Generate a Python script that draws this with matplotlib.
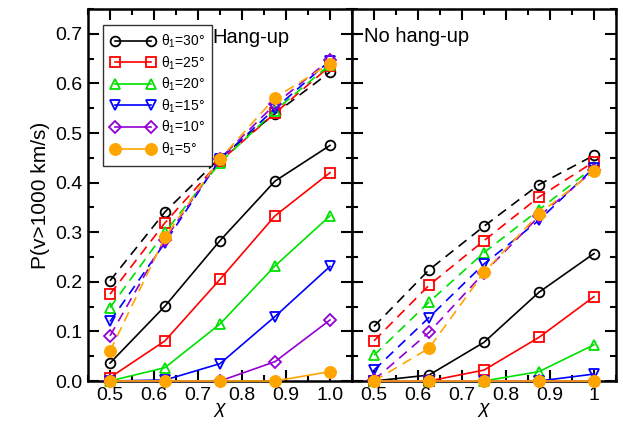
import numpy as np
import matplotlib
matplotlib.use("Agg")
import matplotlib.pyplot as plt
from matplotlib.ticker import MultipleLocator

plt.rcParams['font.family'] = ['Liberation Sans', 'DejaVu Sans']
plt.rcParams['mathtext.fontset'] = 'custom'
plt.rcParams['mathtext.rm'] = 'Liberation Sans'
plt.rcParams['mathtext.it'] = 'Liberation Sans:italic'

chi = [0.5, 0.625, 0.75, 0.875, 1.0]
angles = ['30', '25', '20', '15', '10', '5']
colors = ['black', '#ff0000', '#00e000', '#0000ff', '#9400d3', '#ffa500']
markers = ['o', 's', '^', 'v', 'D', 'o']

# Hang-up panel: upper (dashed) and lower (solid) sets
hang_dashed = [
    [0.202, 0.341, 0.450, 0.539, 0.623],
    [0.175, 0.319, 0.443, 0.540, 0.635],
    [0.148, 0.300, 0.440, 0.545, 0.638],
    [0.120, 0.279, 0.447, 0.549, 0.646],
    [0.091, 0.285, 0.448, 0.558, 0.648],
    [0.060, 0.290, 0.448, 0.571, 0.640],
]
hang_solid = [
    [0.036, 0.151, 0.283, 0.403, 0.475],
    [0.007, 0.081, 0.205, 0.333, 0.420],
    [0.000, 0.027, 0.115, 0.232, 0.333],
    [0.000, 0.002, 0.035, 0.130, 0.231],
    [0.000, 0.000, 0.000, 0.039, 0.123],
    [0.000, 0.000, 0.000, 0.000, 0.019],
]
# No hang-up panel
nohang_dashed = [
    [0.110, 0.224, 0.312, 0.396, 0.455],
    [0.081, 0.193, 0.283, 0.371, 0.442],
    [0.052, 0.159, 0.259, 0.345, 0.432],
    [0.022, 0.128, 0.236, 0.324, 0.430],
    [0.002, 0.098, 0.218, 0.332, 0.425],
    [0.000, 0.066, 0.219, 0.337, 0.423],
]
nohang_solid = [
    [0.000, 0.012, 0.078, 0.179, 0.257],
    [0.000, 0.000, 0.022, 0.088, 0.170],
    [0.000, 0.000, 0.000, 0.019, 0.073],
    [0.000, 0.000, 0.000, 0.000, 0.014],
    [0.000, 0.000, 0.000, 0.000, 0.000],
    [0.000, 0.000, 0.000, 0.000, 0.000],
]

fig = plt.figure(figsize=(6.23, 4.24), dpi=100)
W, H = 623, 424
ax1 = fig.add_axes([88 / W, 1 - 381 / H, 264 / W, 372 / H])
ax2 = fig.add_axes([352 / W, 1 - 381 / H, 264 / W, 372 / H])

def draw(ax, dashed, solid):
    handles = []
    for i in range(6):
        filled = i == 5
        mfc = colors[i] if filled else 'none'
        ms = 8 if filled else 7
        if markers[i] == 'D':
            ms = 6
        ax.plot(chi, dashed[i], color=colors[i], lw=1.2, dashes=(6, 4),
                marker=markers[i], ms=ms, mfc=mfc,
                mec=colors[i], mew=1.3, zorder=3 + i, clip_on=False)
        h, = ax.plot(chi, solid[i], color=colors[i], lw=1.2,
                     marker=markers[i], ms=ms, mfc=mfc,
                     mec=colors[i], mew=1.3, zorder=3 + i, clip_on=False)
        handles.append(h)
    ax.set_xlim(0.45, 1.05)
    ax.set_ylim(0, 0.75)
    ax.xaxis.set_major_locator(MultipleLocator(0.1))
    ax.xaxis.set_minor_locator(MultipleLocator(0.05))
    ax.yaxis.set_major_locator(MultipleLocator(0.1))
    ax.yaxis.set_minor_locator(MultipleLocator(0.05))
    ax.tick_params(which='both', direction='in', top=True, right=True,
                   width=1.5, labelsize=14, pad=4)
    ax.tick_params(which='major', length=8)
    ax.tick_params(which='minor', length=4)
    for s in ax.spines.values():
        s.set_linewidth(1.8)
    ax.set_xlabel(r'$\chi$', fontsize=14, labelpad=-2)
    return handles

handles = draw(ax1, hang_dashed, hang_solid)
draw(ax2, nohang_dashed, nohang_solid)

ax1.set_xticks([0.5, 0.6, 0.7, 0.8, 0.9, 1.0])
ax1.set_xticklabels(['0.5', '0.6', '0.7', '0.8', '0.9', '1.0'])
ax1.set_yticks(np.arange(0, 0.71, 0.1))
ax1.set_yticklabels(['%.1f' % v for v in np.arange(0, 0.71, 0.1)])
ax1.set_ylabel('P(v>1000 km/s)', fontsize=15, labelpad=4)

ax2.set_xticks([0.5, 0.6, 0.7, 0.8, 0.9, 1.0])
ax2.set_xticklabels(['0.5', '0.6', '0.7', '0.8', '0.9', '1'])
ax2.tick_params(labelleft=False)

ax1.text(0.470, 0.9086, 'Hang-up', transform=ax1.transAxes, fontsize=14.5,
         va='baseline', ha='left')
ax2.text(0.045, 0.911, 'No hang-up', transform=ax2.transAxes, fontsize=14.5,
         va='baseline', ha='left')

labels = [r'θ$_1$=%s°' % a for a in angles]
leg = ax1.legend(handles, labels, loc='upper left',
                 bbox_to_anchor=((103 - 88) / 264, (381 - 25) / 372),
                 numpoints=2, handlelength=3.2, fontsize=10, frameon=True,
                 fancybox=False, edgecolor='black', borderpad=0.55,
                 labelspacing=0.3, handletextpad=0.4, borderaxespad=0)
leg.get_frame().set_linewidth(1.0)

fig.savefig('out.png', dpi=100)
